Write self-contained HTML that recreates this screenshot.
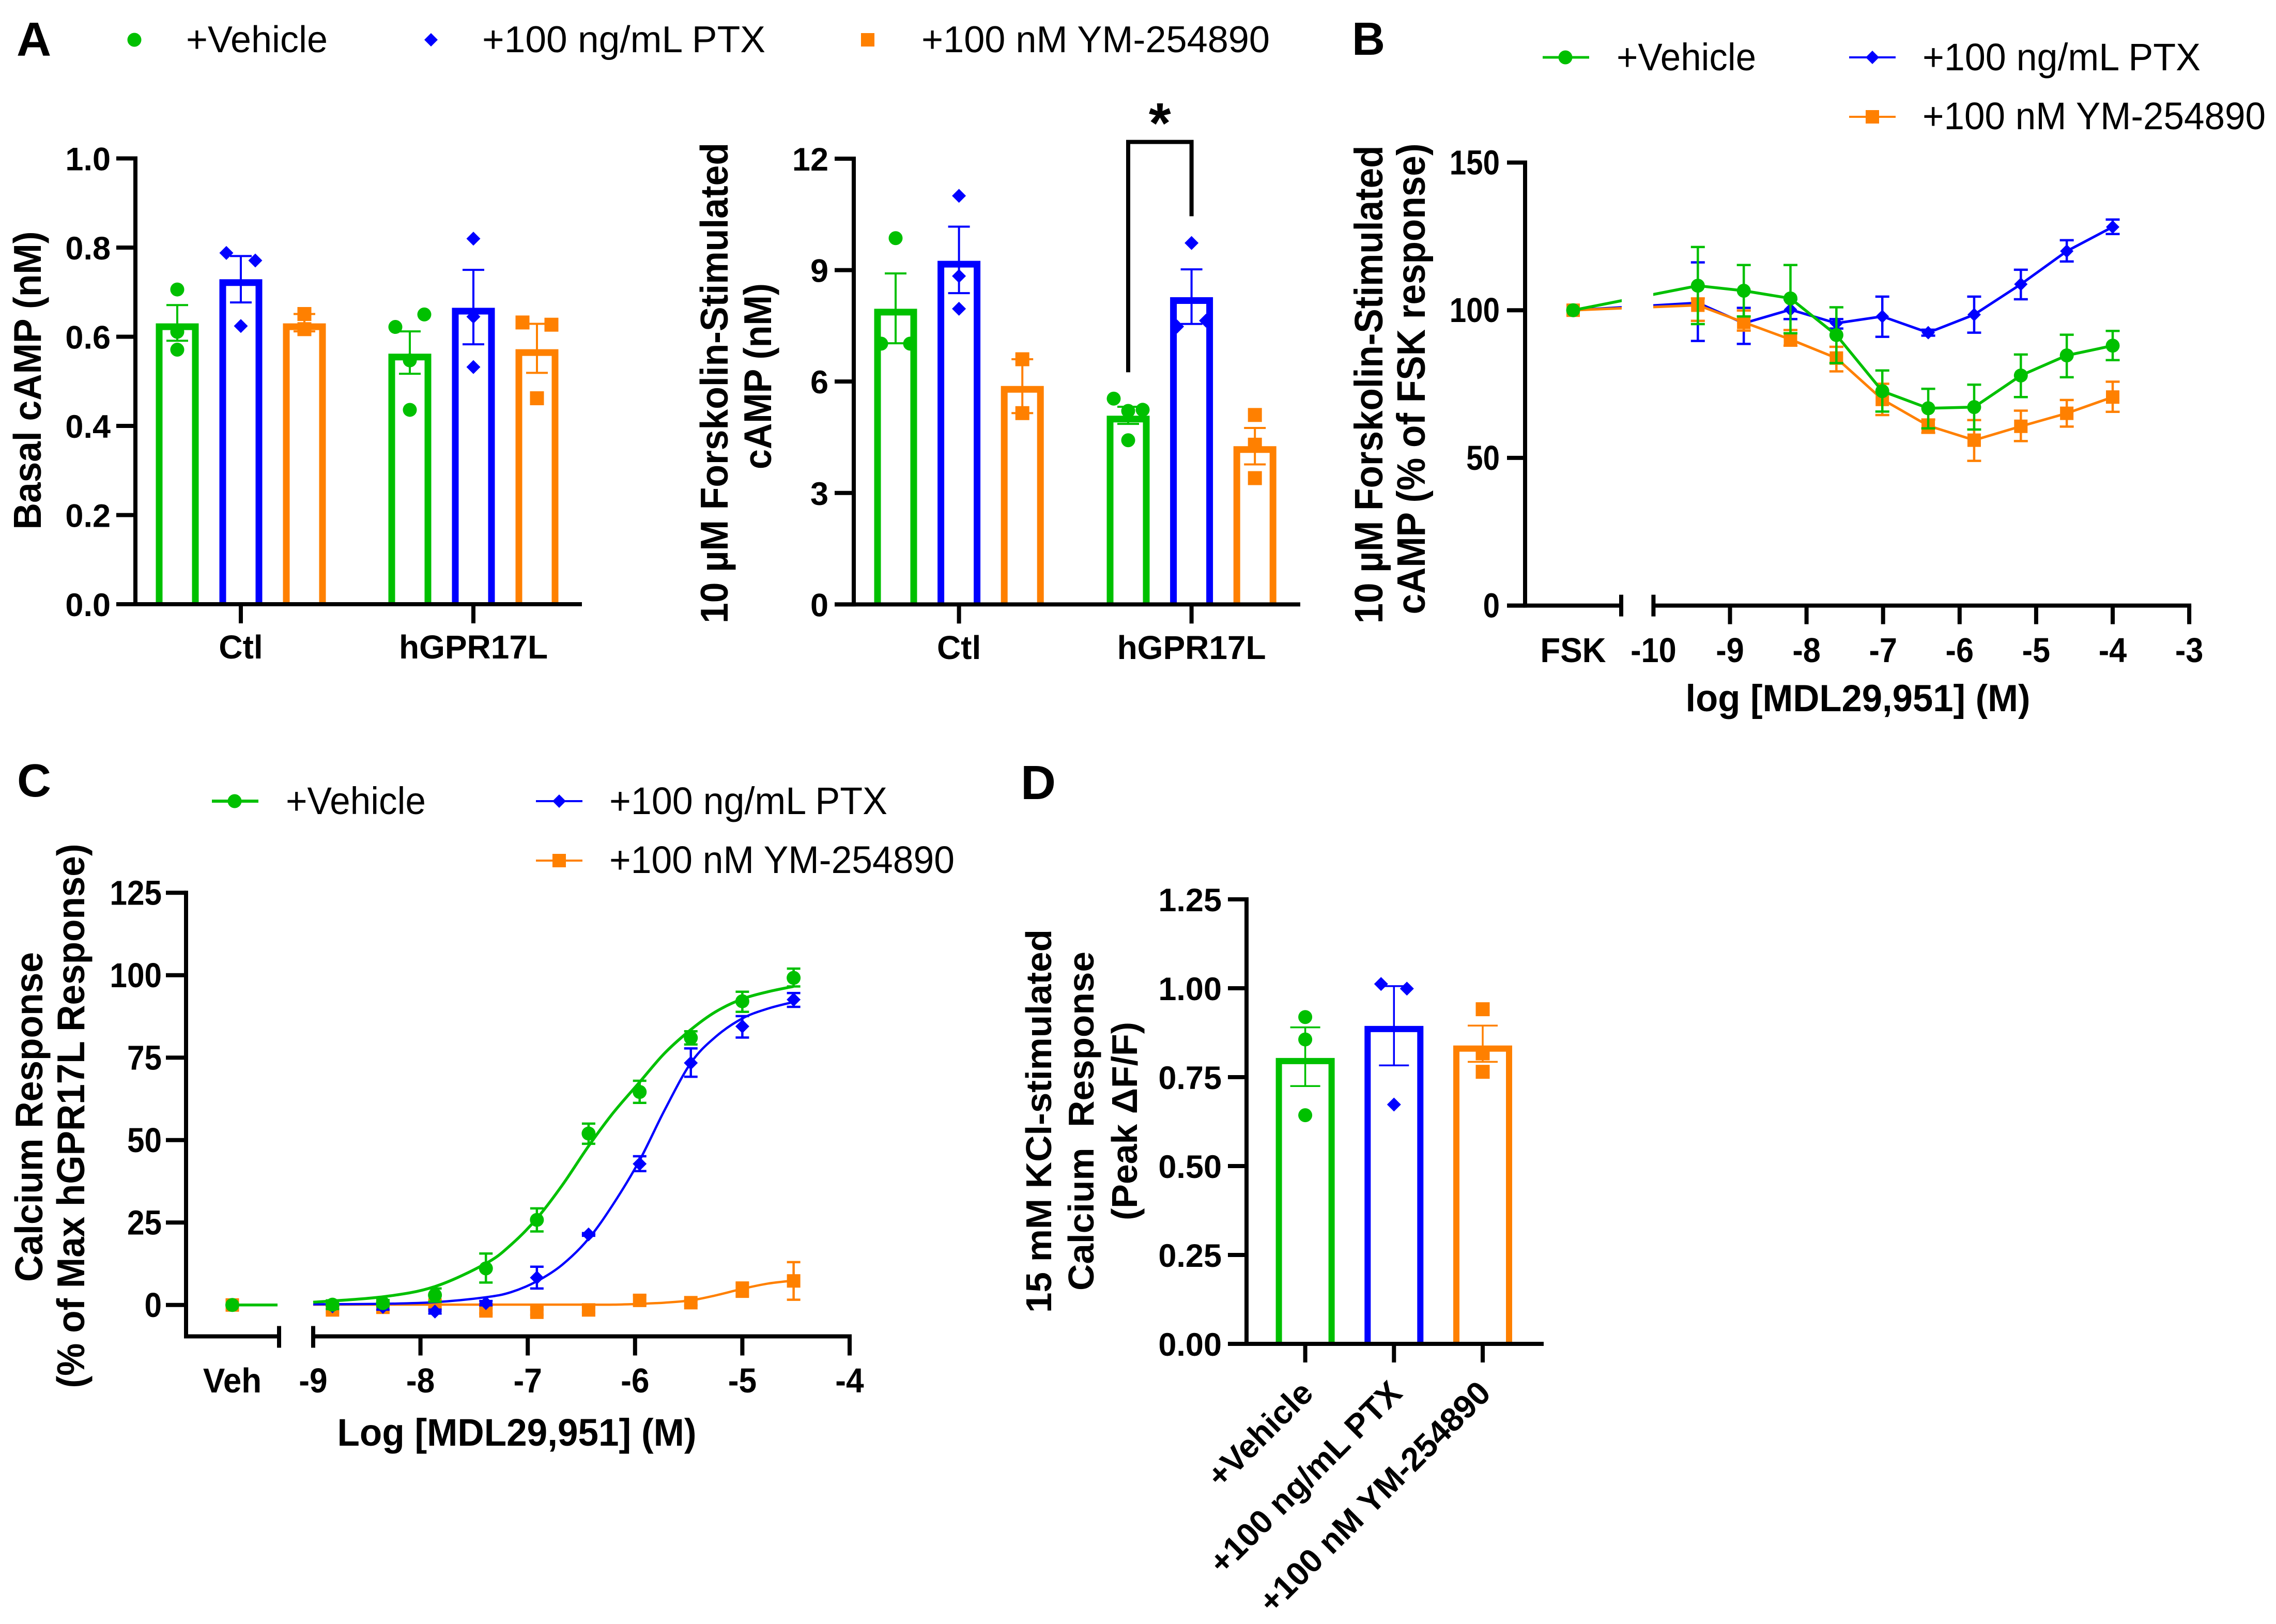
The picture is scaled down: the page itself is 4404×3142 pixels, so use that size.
<!DOCTYPE html>
<html lang="en">
<head>
<meta charset="utf-8">
<title>cAMP and calcium response figure</title>
<style>
html,body{margin:0;padding:0;background:#fff;}
svg{display:block;font-family:"Liberation Sans",Arial,sans-serif;fill:#000;}
.b{font-weight:700;}
</style>
</head>
<body>
<svg id="fig" xmlns="http://www.w3.org/2000/svg" width="4404" height="3142" viewBox="0 0 4404 3142">
<rect x="0" y="0" width="4404" height="3142" fill="#fff"/>

<!-- Panel letters -->
<text class="b" x="32" y="108" font-size="93">A</text>
<text class="b" x="2616" y="106" font-size="90" textLength="64" lengthAdjust="spacingAndGlyphs">B</text>
<text class="b" x="33" y="1541" font-size="90" textLength="66" lengthAdjust="spacingAndGlyphs">C</text>
<text class="b" x="1975" y="1546" font-size="93" textLength="68" lengthAdjust="spacingAndGlyphs">D</text>

<!-- Panel A legend -->
<g>
  <circle cx="260" cy="77" r="13.5" fill="#00c000"/>
  <text x="360" y="101" font-size="72" textLength="274" lengthAdjust="spacingAndGlyphs">+Vehicle</text>
  <polygon points="834,64 847,77 834,90 821,77" fill="#0000ff"/>
  <text x="933" y="101" font-size="72" textLength="548" lengthAdjust="spacingAndGlyphs">+100 ng/mL PTX</text>
  <rect x="1666" y="64" width="26" height="26" fill="#ff8000"/>
  <text x="1783" y="101" font-size="72" textLength="674" lengthAdjust="spacingAndGlyphs">+100 nM YM-254890</text>
</g>

<!-- Panel A titles -->
<text class="b" transform="translate(79,736) rotate(-90)" text-anchor="middle" font-size="75" textLength="577" lengthAdjust="spacingAndGlyphs">Basal cAMP (nM)</text>
<text class="b" transform="translate(1408,741) rotate(-90)" text-anchor="middle" font-size="75" textLength="930" lengthAdjust="spacingAndGlyphs">10 µM Forskolin-Stimulated</text>
<text class="b" transform="translate(1492,728) rotate(-90)" text-anchor="middle" font-size="75" textLength="360" lengthAdjust="spacingAndGlyphs">cAMP (nM)</text>

<!-- Panel B legend and titles -->
<g>
  <line x1="2985" y1="111" x2="3075" y2="111" stroke="#00c000" stroke-width="5"/>
  <circle cx="3029" cy="111" r="13.5" fill="#00c000"/>
  <text x="3128" y="136" font-size="74" textLength="270" lengthAdjust="spacingAndGlyphs">+Vehicle</text>
  <line x1="3578" y1="111" x2="3668" y2="111" stroke="#0000ff" stroke-width="4"/>
  <polygon points="3623,98 3636,111 3623,124 3610,111" fill="#0000ff"/>
  <text x="3720" y="136" font-size="74" textLength="538" lengthAdjust="spacingAndGlyphs">+100 ng/mL PTX</text>
  <line x1="3578" y1="226" x2="3668" y2="226" stroke="#ff8000" stroke-width="4"/>
  <rect x="3610" y="213" width="26" height="26" fill="#ff8000"/>
  <text x="3720" y="250" font-size="74" textLength="664" lengthAdjust="spacingAndGlyphs">+100 nM YM-254890</text>
</g>
<text class="b" transform="translate(2675,744) rotate(-90)" text-anchor="middle" font-size="77" textLength="925" lengthAdjust="spacingAndGlyphs">10 µM Forskolin-Stimulated</text>
<text class="b" transform="translate(2757,733) rotate(-90)" text-anchor="middle" font-size="77" textLength="911" lengthAdjust="spacingAndGlyphs">cAMP (% of FSK response)</text>
<text class="b" x="3595" y="1376" text-anchor="middle" font-size="73" textLength="667" lengthAdjust="spacingAndGlyphs">log [MDL29,951] (M)</text>

<!-- Panel C legend and titles -->
<g>
  <line x1="410" y1="1550" x2="500" y2="1550" stroke="#00c000" stroke-width="6"/>
  <circle cx="454" cy="1550" r="13.5" fill="#00c000"/>
  <text x="553" y="1575" font-size="74" textLength="271" lengthAdjust="spacingAndGlyphs">+Vehicle</text>
  <line x1="1037" y1="1550" x2="1127" y2="1550" stroke="#0000ff" stroke-width="4"/>
  <polygon points="1082,1537 1095,1550 1082,1563 1069,1550" fill="#0000ff"/>
  <text x="1179" y="1575" font-size="74" textLength="538" lengthAdjust="spacingAndGlyphs">+100 ng/mL PTX</text>
  <line x1="1037" y1="1665" x2="1127" y2="1665" stroke="#ff8000" stroke-width="4"/>
  <rect x="1069" y="1652" width="26" height="26" fill="#ff8000"/>
  <text x="1179" y="1689" font-size="74" textLength="668" lengthAdjust="spacingAndGlyphs">+100 nM YM-254890</text>
</g>
<text class="b" transform="translate(82,2161) rotate(-90)" text-anchor="middle" font-size="75" textLength="638" lengthAdjust="spacingAndGlyphs">Calcium Response</text>
<text class="b" transform="translate(163,2159) rotate(-90)" text-anchor="middle" font-size="75" textLength="1053" lengthAdjust="spacingAndGlyphs">(% of Max hGPR17L Response)</text>
<text class="b" x="1000" y="2797" text-anchor="middle" font-size="74" textLength="695" lengthAdjust="spacingAndGlyphs">Log [MDL29,951] (M)</text>

<!-- Panel D titles -->
<text class="b" transform="translate(2034,2169) rotate(-90)" text-anchor="middle" font-size="70" textLength="742" lengthAdjust="spacingAndGlyphs">15 mM KCl-stimulated</text>
<text class="b" transform="translate(2116,2169) rotate(-90)" text-anchor="middle" font-size="70" textLength="656" lengthAdjust="spacingAndGlyphs" xml:space="preserve">Calcium  Response</text>
<text class="b" transform="translate(2200,2169) rotate(-90)" text-anchor="middle" font-size="70" textLength="384" lengthAdjust="spacingAndGlyphs">(Peak ΔF/F)</text>

<g id="a1"></g>
<g id="a2"></g>
<g id="b"></g>
<g id="c"></g>
<g id="d"></g>
</svg>

<script>
// ---- Shared names ----
const seriesKeys = ['vehicle', 'ptx', 'ym'];

// ---- Panel A, basal cAMP ----
const a1Groups = ['Ctl', 'hGPR17L'];
const a1YTicks = [0, 0.2, 0.4, 0.6, 0.8, 1.0];
const a1YTickLabels = ['0.0', '0.2', '0.4', '0.6', '0.8', '1.0'];
const a1Means = [[0.63, 0.729, 0.63], [0.562, 0.665, 0.572]];
const a1ErrHi = [[0.671, 0.781, 0.651], [0.612, 0.75, 0.629]];
const a1ErrLo = [[0.591, 0.677, 0.612], [0.517, 0.583, 0.519]];
const a1Points = [
  [[0.706, 0.611, 0.571], [0.788, 0.771, 0.624], [0.651, 0.617]],
  [[0.622, 0.65, 0.547, 0.436], [0.82, 0.645, 0.532], [0.632, 0.627, 0.462]]
];

// ---- Panel A, forskolin-stimulated cAMP ----
const a2Groups = ['Ctl', 'hGPR17L'];
const a2YTicks = [0, 3, 6, 9, 12];
const a2YTickLabels = ['0', '3', '6', '9', '12'];
const a2Means = [[7.96, 9.25, 5.88], [5.08, 8.27, 4.26]];
const a2ErrHi = [[8.91, 10.17, 6.6], [5.32, 9.02, 4.75]];
const a2ErrLo = [[7.03, 8.38, 5.15], [4.86, 7.55, 3.77]];
const a2Points = [
  [[9.86, 7.02, 7.02], [11.0, 8.84, 7.96], [6.6, 5.15]],
  [[5.21, 5.54, 5.24, 4.42], [9.73, 7.48, 7.64], [5.1, 4.3, 3.4]]
];
const a2BracketLevels = [6.25, 12.45, 10.45];

// ---- Panel B ----
const bYTicks = [0, 50, 100, 150];
const bXTicks = [-10, -9, -8, -7, -6, -5, -4, -3];
const bLogX = [-9.42, -8.82, -8.21, -7.61, -7.01, -6.41, -5.81, -5.2, -4.6, -4.0];
const bFskValue = [100, 100, 100];
const bVehicle = [108.3, 106.6, 104, 91.6, 72.6, 66.8, 67.2, 77.9, 84.7, 88];
const bVehicleHi = [121.4, 115.3, 115.3, 101, 79.6, 73.4, 74.8, 85, 91.7, 93];
const bVehicleLo = [95.3, 97.9, 92.2, 82.1, 65.7, 60, 59.6, 70.6, 77.3, 83.1];
const bPtx = [102.5, 95.6, 100.2, 95.6, 97.9, 92.4, 98.5, 108.8, 120, 128.2];
const bPtxHi = [116.2, 100.8, 103.7, 97, 104.6, 93.4, 104.6, 113.7, 123.7, 130.7];
const bPtxLo = [89.6, 88.6, 97, 93.8, 91, 91.4, 92.4, 103.7, 116.5, 125.8];
const bYm = [101.7, 95.9, 90.1, 83.8, 69.8, 60.9, 56, 60.7, 65.1, 70.6];
const bYmHi = [104, 99.9, 93.3, 87.6, 75.1, 63, 62.8, 66, 69.6, 75.8];
const bYmLo = [96.4, 93.1, 88, 79.3, 64.5, 58.5, 49, 55.7, 60.6, 65.6];

// ---- Panel C ----
const cYTicks = [0, 25, 50, 75, 100, 125];
const cXTicks = [-9, -8, -7, -6, -5, -4];
const cLogX = [-8.82, -8.35, -7.865, -7.39, -6.915, -6.433, -5.957, -5.48, -5.0, -4.522];
const cVehValue = [0, 0, 0];
const cVehicle = [0.1, 0.55, 3, 11.1, 25.8, 52, 64.6, 81, 92.1, 99.2];
const cVehicleHi = [1.4, 1.5, 5, 15.6, 29.3, 55, 68, 83, 95, 102];
const cVehicleLo = [-1.2, -0.4, 1, 6.8, 22.3, 48.9, 61.3, 79, 88.9, 96.6];
const cPtx = [-0.4, -0.6, -2, 0.55, 8.3, 21.4, 42.8, 73.4, 84.5, 92.6];
const cPtxHi = [0.4, 0.2, -1.4, 1.2, 11.6, 21.8, 45.1, 77.8, 87.6, 94.6];
const cPtxLo = [-1.2, -1.4, -2.6, -0.1, 5, 21, 40.6, 69.2, 81.1, 90.4];
const cYm = [-1.5, -0.7, 0, -1.8, -2.2, -1.5, 1.4, 0.7, 4.7, 7.3];
const cYmHi = [-0.7, 0.1, 0.8, -1, -1.4, -0.7, 2.9, 1.5, 6.8, 13];
const cYmLo = [-2.3, -1.5, -0.8, -2.6, -3, -2.3, 0, -0.1, 2.5, 1.6];
const cCurveLogX = [-9, -8.347, -7.865, -7.39, -7.155, -6.915, -6.679, -6.433, -6.203, -5.957, -5.726, -5.48, -5.25, -5, -4.76, -4.522];
const cVehicleCurve = [0.85, 2.5, 5.6, 12.6, 18.3, 26.25, 36.3, 48.2, 58.3, 67.6, 76.3, 83.5, 88.9, 92.8, 95, 96.6];
const cPtxCurve = [0.2, 0.35, 0.85, 2.35, 3.9, 7.2, 12.2, 20.1, 30.6, 43.9, 59, 73.4, 81.3, 86.9, 89.9, 91.9];
const cYmCurve = [0.1, 0.1, 0.1, 0.1, 0.1, 0.1, 0.1, 0.1, 0.1, 0.35, 0.7, 1.4, 2.9, 4.9, 6.5, 7.4];

// ---- Panel D ----
const dCategories = ['+Vehicle', '+100 ng/mL PTX', '+100 nM YM-254890'];
const dYTicks = [0, 0.25, 0.5, 0.75, 1.0, 1.25];
const dYTickLabels = ['0.00', '0.25', '0.50', '0.75', '1.00', '1.25'];
const dMeans = [0.804, 0.894, 0.839];
const dErrHi = [0.89, 1.006, 0.895];
const dErrLo = [0.725, 0.783, 0.793];
const dPoints = [[0.919, 0.856, 0.643], [1.012, 0.999, 0.673], [0.941, 0.817, 0.765]];

// ---- Helpers ----
const NS = 'http://www.w3.org/2000/svg';
const COLORS = {vehicle: '#00c000', ptx: '#0000ff', ym: '#ff8000'};
const SHAPES = {vehicle: 'circle', ptx: 'diamond', ym: 'square'};

function mk(parent, tag, attrs) {
  const el = document.createElementNS(NS, tag);
  for (const k in attrs) el.setAttribute(k, attrs[k]);
  parent.appendChild(el);
  return el;
}
function seg(parent, x1, y1, x2, y2, color, w) {
  return mk(parent, 'line', {x1: x1, y1: y1, x2: x2, y2: y2, stroke: color, 'stroke-width': w});
}
function label(parent, x, y, str, size, sx, anchor) {
  const el = mk(parent, 'text', {transform: 'translate(' + x + ',' + y + ') scale(' + sx + ',1)', 'font-size': size, 'font-weight': 700, 'text-anchor': anchor});
  el.textContent = str;
  return el;
}
function marker(parent, key, x, y, size) {
  const c = COLORS[key], r = size / 2;
  if (SHAPES[key] === 'circle') return mk(parent, 'circle', {cx: x, cy: y, r: r, fill: c});
  if (SHAPES[key] === 'square') return mk(parent, 'rect', {x: x - r, y: y - r, width: size, height: size, fill: c});
  return mk(parent, 'polygon', {points: x + ',' + (y - r) + ' ' + (x + r) + ',' + y + ' ' + x + ',' + (y + r) + ' ' + (x - r) + ',' + y, fill: c});
}
// Points closer than the threshold (in pixels) sit side by side, as a swarm.
function swarmOffsets(values, yFn, threshold, spread) {
  const idx = values.map((v, i) => i).sort((a, b) => values[a] - values[b]);
  const clusters = [];
  idx.forEach(i => {
    const last = clusters[clusters.length - 1];
    if (last && Math.abs(yFn(values[last[last.length - 1]]) - yFn(values[i])) < threshold) last.push(i);
    else clusters.push([i]);
  });
  const out = values.map(() => 0);
  clusters.forEach(cl => {
    const ordered = cl.slice().sort((a, b) => a - b);
    if (ordered.length === 2) { out[ordered[0]] = -spread; out[ordered[1]] = spread; }
    if (ordered.length === 3) { out[ordered[1]] = -spread; out[ordered[2]] = spread; }
  });
  return out;
}
function drawBar(g, name, key, cx, yFn, mean, hi, lo, points, o) {
  const c = COLORS[key], half = o.barW / 2 - o.stroke / 2, base = yFn(0);
  const bar = mk(g, 'path', {d: 'M' + (cx - half) + ' ' + base + 'V' + (yFn(mean) + o.stroke / 2) + 'H' + (cx + half) + 'V' + base, fill: 'none', stroke: c, 'stroke-width': o.stroke});
  
  
  const err = seg(g, cx, yFn(hi), cx, yFn(lo), c, o.errW);
  
  
  const capHi = seg(g, cx - o.capW / 2, yFn(hi), cx + o.capW / 2, yFn(hi), c, o.errW);
  
  
  const capLo = seg(g, cx - o.capW / 2, yFn(lo), cx + o.capW / 2, yFn(lo), c, o.errW);
  
  
  const offs = swarmOffsets(points, yFn, 26, o.spread);
  points.forEach((v, i) => {
    const m = marker(g, key, cx + offs[i], yFn(v), o.marker);
    
    
  });
}
function yAxis(g, prefix, axisX, tickX, yFn, ticks, labels, topV, bottomPx, labelRight, size, sx) {
  const ax = seg(g, axisX, yFn(topV) - 4, axisX, bottomPx + 4, '#000', 8);
  
  
  ticks.forEach((v, i) => {
    const t = seg(g, tickX, yFn(v), axisX, yFn(v), '#000', 8);
    
    
    const l = label(g, labelRight, yFn(v) + 23, labels[i], size, sx, 'end');
    
    
  });
}
function catmull(pts) {
  let d = 'M' + pts[0][0] + ' ' + pts[0][1];
  for (let i = 0; i < pts.length - 1; i++) {
    const p0 = pts[Math.max(0, i - 1)], p1 = pts[i], p2 = pts[i + 1], p3 = pts[Math.min(pts.length - 1, i + 2)];
    d += 'C' + (p1[0] + (p2[0] - p0[0]) / 6) + ' ' + (p1[1] + (p2[1] - p0[1]) / 6) + ' ' +
         (p2[0] - (p3[0] - p1[0]) / 6) + ' ' + (p2[1] - (p3[1] - p1[1]) / 6) + ' ' + p2[0] + ' ' + p2[1];
  }
  return d;
}
function drawErrors(g, prefix, key, xs, hi, lo, yFn, capW, w) {
  xs.forEach((x, i) => {
    const v = seg(g, x, yFn(hi[i]), x, yFn(lo[i]), COLORS[key], w);
    
    
    const a = seg(g, x - capW / 2, yFn(hi[i]), x + capW / 2, yFn(hi[i]), COLORS[key], w);
    
    
    const b = seg(g, x - capW / 2, yFn(lo[i]), x + capW / 2, yFn(lo[i]), COLORS[key], w);
    
    
  });
}

// ---- Draw panel A, basal ----
(function () {
  const g = document.getElementById('a1');
  const y = v => 1169 - v * 862.5;
  const x = (gi, s) => 343 + gi * 450 + s * 123;
  const o = {barW: 83, stroke: 13, errW: 4, capW: 42, marker: 27, spread: 28};
  a1Groups.forEach((name, gi) => {
    seriesKeys.forEach((key, s) => {
      drawBar(g, 'a1-' + name + '-' + key, key, x(gi, s), y, a1Means[gi][s], a1ErrHi[gi][s], a1ErrLo[gi][s], a1Points[gi][s], o);
    });
    const t = seg(g, x(gi, 1), y(0), x(gi, 1), y(0) + 37, '#000', 8);
    
    
    const l = label(g, x(gi, 1), 1274, name, 64, 1, 'middle');
    
    
  });
  const ax = seg(g, 226, y(0), 1126, y(0), '#000', 8);
  
  
  yAxis(g, 'a1', 262, 225, y, a1YTicks, a1YTickLabels, 1, y(0), 214, 63, 1);
})();

// ---- Draw panel A, forskolin ----
(function () {
  const g = document.getElementById('a2');
  const y = v => 1169.4 - v * 71.87;
  const x = (gi, s) => 1733 + gi * 450 + s * 122.6;
  const o = {barW: 83, stroke: 13, errW: 4, capW: 42, marker: 27, spread: 28};
  a2Groups.forEach((name, gi) => {
    seriesKeys.forEach((key, s) => {
      drawBar(g, 'a2-' + name + '-' + key, key, x(gi, s), y, a2Means[gi][s], a2ErrHi[gi][s], a2ErrLo[gi][s], a2Points[gi][s], o);
    });
    const t = seg(g, x(gi, 1), y(0), x(gi, 1), y(0) + 37, '#000', 8);
    
    
    const l = label(g, x(gi, 1), 1275, name, 64, 1, 'middle');
    
    
  });
  const ax = seg(g, 1615, y(0), 2516, y(0), '#000', 8);
  
  
  yAxis(g, 'a2', 1652, 1615, y, a2YTicks, a2YTickLabels, 12, y(0), 1603, 63, 1);
  const bracket = mk(g, 'path', {d: 'M' + x(1, 0) + ' ' + y(a2BracketLevels[0]) + 'V' + y(a2BracketLevels[1]) + 'H' + x(1, 1) + 'V' + y(a2BracketLevels[2]), fill: 'none', stroke: '#000', 'stroke-width': 8});
  
  
  const star = label(g, (x(1, 0) + x(1, 1)) / 2, 276, '*', 110, 1, 'middle');
  
  
})();

// ---- Draw panel B ----
(function () {
  const g = document.getElementById('b');
  const y = v => 1171.6 - v * 5.714;
  const x = v => 3199.4 + (v + 10) * 148.1;
  const fskX = 3044;
  const defs = mk(g, 'defs', {});
  const clip = mk(defs, 'clipPath', {id: 'b-break-clip'});
  mk(clip, 'rect', {x: 2900, y: 0, width: 238, height: 1300});
  mk(clip, 'rect', {x: 3199, y: 0, width: 1100, height: 1300});
  const series = [
    ['ptx', bPtx, bPtxHi, bPtxLo, 1, 5, 26],
    ['ym', bYm, bYmHi, bYmLo, 2, 5, 26],
    ['vehicle', bVehicle, bVehicleHi, bVehicleLo, 0, 5.5, 27]
  ];
  series.forEach(s => {
    const key = s[0], xs = bLogX.map(x);
    const pts = [[fskX, y(bFskValue[s[4]])]].concat(xs.map((px, i) => [px, y(s[1][i])]));
    const line = mk(g, 'polyline', {points: pts.map(p => p.join(',')).join(' '), fill: 'none', stroke: COLORS[key], 'stroke-width': s[5], 'clip-path': 'url(#b-break-clip)'});
    
    
    drawErrors(g, 'b', key, xs, s[2], s[3], y, 27, 4.5);
    pts.forEach(p => {
      const m = marker(g, key, p[0], p[1], s[6]);
      
      
    });
  });
  yAxis(g, 'b', 2951, 2916, y, bYTicks, bYTicks.map(String), 150, y(0), 2902, 67, 0.87);
  const base = y(0);
  const axL = seg(g, 2916, base, 3137, base, '#000', 8);
  
  
  const axR = seg(g, x(-10), base, x(-3) + 4, base, '#000', 8);
  
  
  const brkL = seg(g, 3137, base - 21, 3137, base + 21, '#000', 8);
  
  
  const brkR = seg(g, x(-10), base - 21, x(-10), base + 21, '#000', 8);
  
  
  bXTicks.forEach(v => {
    if (v !== -10) {
      const t = seg(g, x(v), base, x(v), base + 36, '#000', 8);
      
      
    }
    const l = label(g, x(v), 1281, String(v), 67, 0.915, 'middle');
    
    
  });
  const fl = label(g, fskX, 1281, 'FSK', 67, 0.95, 'middle');
  
  
})();

// ---- Draw panel C ----
(function () {
  const g = document.getElementById('c');
  const y = v => 2524.8 - v * 6.38;
  const x = v => 606 + (v + 9) * 207.6;
  const vehX = 449.5, base = 2585.5;
  const series = [
    ['ym', cYm, cYmHi, cYmLo, cYmCurve, 2, 4.5, 26],
    ['ptx', cPtx, cPtxHi, cPtxLo, cPtxCurve, 1, 4.5, 27],
    ['vehicle', cVehicle, cVehicleHi, cVehicleLo, cVehicleCurve, 0, 5.5, 27]
  ];
  series.forEach(s => {
    const key = s[0], xs = cLogX.map(x);
    const veh = seg(g, vehX, y(cVehValue[s[5]]), 537, y(cVehValue[s[5]]), COLORS[key], s[6]);
    
    
    const curve = mk(g, 'path', {d: catmull(cCurveLogX.map((v, i) => [x(v), y(s[4][i])])), fill: 'none', stroke: COLORS[key], 'stroke-width': s[6]});
    
    
    drawErrors(g, 'c', key, xs, s[2], s[3], y, 26, 4.5);
    const vm = marker(g, key, vehX, y(cVehValue[s[5]]), s[7]);
    
    
    xs.forEach((px, i) => {
      const m = marker(g, key, px, y(s[1][i]), s[7]);
      
      
    });
  });
  yAxis(g, 'c', 360, 321, y, cYTicks, cYTicks.map(String), 125, base, 313, 67, 0.9);
  const axL = seg(g, 356, base, 540, base, '#000', 8);
  
  
  const axR = seg(g, x(-9), base, x(-4) + 4, base, '#000', 8);
  
  
  const brkL = seg(g, 540, base - 20, 540, base + 22, '#000', 8);
  
  
  const brkR = seg(g, x(-9), base - 20, x(-9), base + 22, '#000', 8);
  
  
  cXTicks.forEach(v => {
    if (v !== -9) {
      const t = seg(g, x(v), base, x(v), base + 37, '#000', 8);
      
      
    }
    const l = label(g, x(v), 2694, String(v), 67, 0.93, 'middle');
    
    
  });
  const vl = label(g, vehX, 2694, 'Veh', 67, 0.95, 'middle');
  
  
})();

// ---- Draw panel D ----
(function () {
  const g = document.getElementById('d');
  const y = v => 2600 - v * 688;
  const x = s => 2525.6 + s * 171.7;
  const o = {barW: 114, stroke: 12, errW: 3.5, capW: 58, marker: 27, spread: 25};
  dCategories.forEach((name, s) => {
    const key = seriesKeys[s];
    drawBar(g, 'd-' + key, key, x(s), y, dMeans[s], dErrHi[s], dErrLo[s], dPoints[s], o);
    const t = seg(g, x(s), y(0), x(s), y(0) + 36, '#000', 8);
    
    
    const l = mk(g, 'text', {transform: 'translate(' + (x(s) + 19) + ',2699) rotate(-45)', 'font-size': 64, 'font-weight': 700, 'text-anchor': 'end'});
    l.textContent = name;
    
    
  });
  const ax = seg(g, 2376, y(0), 2987, y(0), '#000', 8);
  
  
  yAxis(g, 'd', 2412, 2376, y, dYTicks, dYTickLabels, 1.25, y(0), 2364, 63, 1);
})();
</script>
</body>
</html>
